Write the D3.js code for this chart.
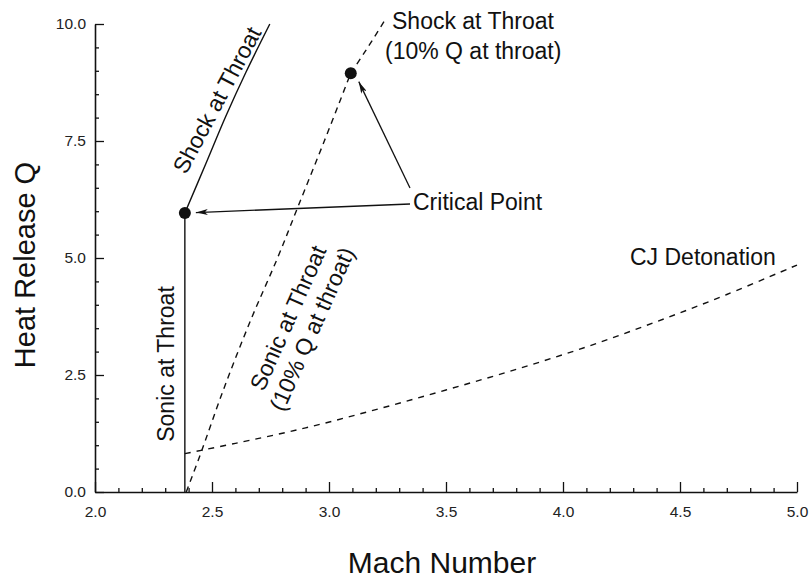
<!DOCTYPE html>
<html>
<head>
<meta charset="utf-8">
<script src="https://cdn.jsdelivr.net/npm/d3@7"></script>
<style>
  html, body { margin: 0; padding: 0; background: #fff; }
  svg { display: block; font-family: "Liberation Sans", Arial, Helvetica, sans-serif; }
</style>
</head>
<body>
<svg id="chart" width="810" height="578"></svg>
<script>
// Axis ticks
const xMajorTicks = [2.0, 2.5, 3.0, 3.5, 4.0, 4.5, 5.0];
const yMajorTicks = [0.0, 2.5, 5.0, 7.5, 10.0];

// Sonic condition at the throat (vertical branch)
const sonicMach = [2.384, 2.384];
const sonicQ    = [0.0, 5.96];

// Shock standing at the throat (solid)
const shockMach = [2.384, 2.474, 2.559, 2.645, 2.747];
const shockQ    = [5.96, 7.02, 8.03, 8.97, 10.0];

// Sonic at throat with 10% of Q released at the throat (dashed)
const sonic10Mach = [2.39, 2.45, 2.55, 2.666, 2.78, 2.867, 2.98, 3.093];
const sonic10Q    = [0.0, 0.8, 2.2, 3.68, 5.0, 6.09, 7.5, 8.95];

// Shock at throat with 10% of Q released at the throat (dashed)
const shock10Mach = [3.093, 3.149, 3.235];
const shock10Q    = [8.95, 9.37, 10.05];

// Chapman-Jouguet detonation curve (dashed)
const cjMach = [2.384, 2.6, 2.9, 3.2, 3.5, 3.8, 4.1, 4.4, 4.7, 5.0];
const cjQ    = [0.82, 1.04, 1.37, 1.76, 2.18, 2.62, 3.1, 3.64, 4.22, 4.85];

// Critical points
const criticalMach = [2.384, 3.093];
const criticalQ    = [5.96, 8.95];

const svg = d3.select("#chart");
const ink = "#111";

const x = d3.scaleLinear().domain([2, 5]).range([95, 797]);
const y = d3.scaleLinear().domain([0, 10]).range([492, 24]);

const zip = (a, b) => a.map((v, i) => [v, b[i]]);

// ---- axes ----
const xMinor = d3.range(20, 51).map(d => d / 10).filter(d => !xMajorTicks.some(t => Math.abs(t - d) < 1e-6));
const yMinor = d3.range(0, 21).map(d => d / 2).filter(d => !yMajorTicks.some(t => Math.abs(t - d) < 1e-6));

const gx = svg.append("g").attr("transform", `translate(0,${y(0)})`);
gx.call(d3.axisBottom(x).tickValues(xMajorTicks).tickSize(-10).tickSizeOuter(0).tickPadding(14)
  .tickFormat(d3.format(".1f")));
const gxm = svg.append("g").attr("transform", `translate(0,${y(0)})`);
gxm.call(d3.axisBottom(x).tickValues(xMinor).tickSize(-4).tickSizeOuter(0).tickFormat(""));
gxm.select(".domain").remove();

const gy = svg.append("g").attr("transform", `translate(${x(2)},0)`);
gy.call(d3.axisLeft(y).tickValues(yMajorTicks).tickSize(-9).tickSizeOuter(0).tickPadding(9)
  .tickFormat(d3.format(".1f")));
const gym = svg.append("g").attr("transform", `translate(${x(2)},0)`);
gym.call(d3.axisLeft(y).tickValues(yMinor).tickSize(-4).tickSizeOuter(0).tickFormat(""));
gym.select(".domain").remove();

svg.selectAll(".domain").attr("stroke", ink).attr("stroke-width", 1.6);
svg.selectAll(".tick line").attr("stroke", ink).attr("stroke-width", 1.3);
svg.selectAll(".tick text").attr("font-size", 15.5).attr("fill", "#222")
  .attr("font-family", "\"Liberation Sans\", Arial, sans-serif");

// axis titles
svg.append("text").attr("x", 442).attr("y", 573).attr("text-anchor", "middle")
  .attr("font-size", 30).attr("fill", ink).text("Mach Number");
svg.append("text").attr("transform", `translate(35,${265}) rotate(-90)`).attr("text-anchor", "middle")
  .attr("font-size", 29).attr("fill", ink).text("Heat Release Q");

// ---- curves ----
const line = d3.line().x(d => x(d[0])).y(d => y(d[1]));
const smooth = d3.line().x(d => x(d[0])).y(d => y(d[1])).curve(d3.curveCatmullRom.alpha(0.5));

svg.append("path").datum(zip(sonicMach, sonicQ)).attr("d", line)
  .attr("fill", "none").attr("stroke", ink).attr("stroke-width", 1.4);
svg.append("path").datum(zip(shockMach, shockQ)).attr("d", smooth)
  .attr("fill", "none").attr("stroke", ink).attr("stroke-width", 1.4);
svg.append("path").datum(zip(sonic10Mach, sonic10Q)).attr("d", smooth)
  .attr("fill", "none").attr("stroke", ink).attr("stroke-width", 1.4).attr("stroke-dasharray", "6,5");
svg.append("path").datum(zip(shock10Mach, shock10Q)).attr("d", smooth)
  .attr("fill", "none").attr("stroke", ink).attr("stroke-width", 1.4).attr("stroke-dasharray", "6,5");
svg.append("path").datum(zip(cjMach, cjQ)).attr("d", smooth)
  .attr("fill", "none").attr("stroke", ink).attr("stroke-width", 1.4).attr("stroke-dasharray", "6,6");

// ---- critical points ----
svg.selectAll("circle.crit").data(zip(criticalMach, criticalQ)).join("circle")
  .attr("class", "crit").attr("cx", d => x(d[0])).attr("cy", d => y(d[1])).attr("r", 6).attr("fill", ink);

// ---- arrows from the "Critical Point" label ----
svg.append("defs").append("marker").attr("id", "arrow")
  .attr("viewBox", "0 0 12 6").attr("refX", 12).attr("refY", 3)
  .attr("markerWidth", 12).attr("markerHeight", 6).attr("markerUnits", "userSpaceOnUse")
  .attr("orient", "auto")
  .append("path").attr("d", "M0,0 L12,3 L0,6 L3,3 Z").attr("fill", ink);

const labelX = 413, labelY = 210;
svg.append("text").attr("x", labelX).attr("y", labelY).attr("font-size", 23).attr("fill", ink).text("Critical Point");

const cp1 = [x(criticalMach[0]), y(criticalQ[0])];
const cp2 = [x(criticalMach[1]), y(criticalQ[1])];
svg.append("line").attr("x1", labelX - 3).attr("y1", labelY - 6)
  .attr("x2", cp1[0] + 11).attr("y2", cp1[1] - 0.5)
  .attr("stroke", ink).attr("stroke-width", 1.3).attr("marker-end", "url(#arrow)");
svg.append("line").attr("x1", labelX - 3).attr("y1", labelY - 22)
  .attr("x2", cp2[0] + 8).attr("y2", cp2[1] + 8.5)
  .attr("stroke", ink).attr("stroke-width", 1.3).attr("marker-end", "url(#arrow)");

// ---- curve labels ----
const lbl = (t, tx, ty, rot) => svg.append("text")
  .attr("transform", `translate(${tx},${ty}) rotate(${rot})`)
  .attr("text-anchor", "middle").attr("dominant-baseline", "central")
  .attr("font-size", 23).attr("fill", ink).text(t);

lbl("Shock at Throat", 217, 100, -62);
lbl("Sonic at Throat", 166, 364, -90);
lbl("Sonic at Throat", 288, 318, -66);
lbl("(10% Q at throat)", 312, 329, -66);

svg.append("text").attr("x", 392).attr("y", 29).attr("font-size", 23).attr("fill", ink).text("Shock at Throat");
svg.append("text").attr("x", 385).attr("y", 59).attr("font-size", 23).attr("fill", ink).text("(10% Q at throat)");
svg.append("text").attr("x", 630).attr("y", 265).attr("font-size", 23).attr("fill", ink).text("CJ Detonation");
</script>
</body>
</html>
